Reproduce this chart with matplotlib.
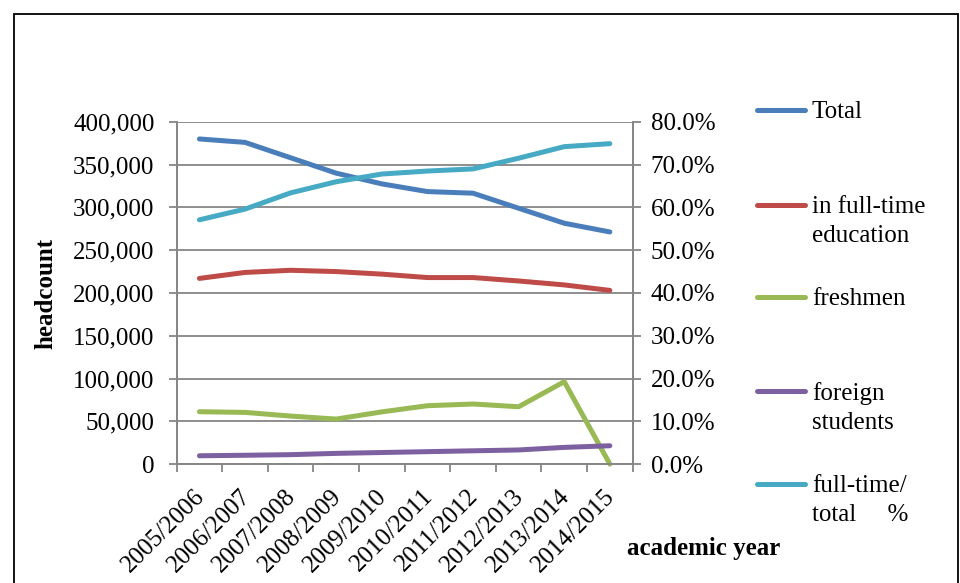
import matplotlib.pyplot as plt
from matplotlib.lines import Line2D
from matplotlib.patches import Rectangle
from matplotlib.ticker import FuncFormatter, FixedLocator
from matplotlib.transforms import ScaledTranslation

plt.rcParams['font.family'] = ['Liberation Serif', 'DejaVu Serif']

years = ["2005/2006", "2006/2007", "2007/2008", "2008/2009", "2009/2010",
         "2010/2011", "2011/2012", "2012/2013", "2013/2014", "2014/2015"]
total = [380000, 376000, 358000, 340000, 327500, 318500, 316600, 299000, 281500, 271300]
full_time = [217000, 224000, 226500, 225000, 222000, 218000, 218000, 214000, 209400, 203000]
freshmen = [61200, 60400, 56100, 52600, 61000, 68200, 70200, 67000, 96300, 0]
foreign = [9700, 10300, 11000, 12500, 13500, 14500, 15500, 16500, 19500, 21400]
ft_share = [57.1, 59.6, 63.4, 66.0, 67.8, 68.5, 69.0, 71.5, 74.2, 74.9]

labels = ["Total", "in full-time\neducation", "freshmen", "foreign\nstudents", "full-time/\ntotal     %"]
colors = ["#4A7EBB", "#BE4B48", "#98B954", "#7D60A0", "#46AAC5"]

fig = plt.figure(figsize=(9.6, 5.83), dpi=100)
ax = fig.add_axes([0.184, 0.204, 0.475, 0.587])
ax2 = ax.twinx()

x = range(len(years))
grid_col = "#868686"
lw = 3.6
fs = 18

for vals, c in zip([total, full_time, freshmen, foreign], colors[:4]):
    ax.plot(x, vals, color=c, lw=lw, solid_capstyle="round", clip_on=False, zorder=3)
ax2.plot(x, ft_share, color=colors[4], lw=lw, solid_capstyle="round", zorder=3)

ax.set_xlim(-0.5, len(years) - 0.5)
ax.set_ylim(0, 400000)
ax2.set_ylim(0, 80)
ax.set_yticks(range(0, 400001, 50000))
ax2.set_yticks(range(0, 81, 10))
ax.yaxis.set_major_formatter(FuncFormatter(lambda v, p: f"{int(v):,}"))
ax2.yaxis.set_major_formatter(FuncFormatter(lambda v, p: f"{v:.1f}%"))
ax.grid(axis="y", color=grid_col, lw=1.3)
ax.set_axisbelow(True)

ax.set_xticks(list(x))
ax.set_xticklabels(years, rotation=45, ha="right", rotation_mode="anchor", fontsize=fs)
ax.tick_params(axis="x", length=0, pad=10)
shift = ScaledTranslation(-0.06, -0.07, fig.dpi_scale_trans)
for t in ax.get_xticklabels():
    t.set_transform(t.get_transform() + shift)
ax.xaxis.set_minor_locator(FixedLocator([i - 0.5 for i in range(len(years) + 1)]))
ax.tick_params(axis="x", which="minor", length=6, color=grid_col, width=1.3)
ax.tick_params(axis="y", labelsize=fs, length=6, color=grid_col, width=1.3, pad=10)
ax2.tick_params(axis="y", labelsize=fs, length=6, color=grid_col, width=1.3, pad=7)

for a in (ax, ax2):
    a.spines["top"].set_visible(False)
    for s in ("left", "right", "bottom"):
        a.spines[s].set_color(grid_col)
        a.spines[s].set_linewidth(1.3)

fig.text(0.048, 0.497, "headcount", rotation=90, fontsize=fs, fontweight="bold",
         ha="center", va="center")
fig.text(0.733, 0.06, "academic year", fontsize=fs, fontweight="bold",
         ha="center", va="center")

# legend drawn by hand to match spacing of the original
leg_y = [110, 205, 297, 391, 484]
for lab, c, yy in zip(labels, colors, leg_y):
    fy = 1 - yy / 583
    fig.add_artist(Line2D([757 / 960, 805 / 960], [fy, fy], color=c, lw=lw,
                          solid_capstyle="round"))
    fig.text(812 / 960, fy + 9 / 583, lab, fontsize=fs, ha="left", va="top",
             linespacing=1.42)

fig.add_artist(Rectangle((13.5 / 960, -0.05), 944 / 960, 1.0 - 14 / 583 + 0.05,
                         transform=fig.transFigure, fill=False, ec="black", lw=1.3))

fig.savefig("out.png", dpi=100)
